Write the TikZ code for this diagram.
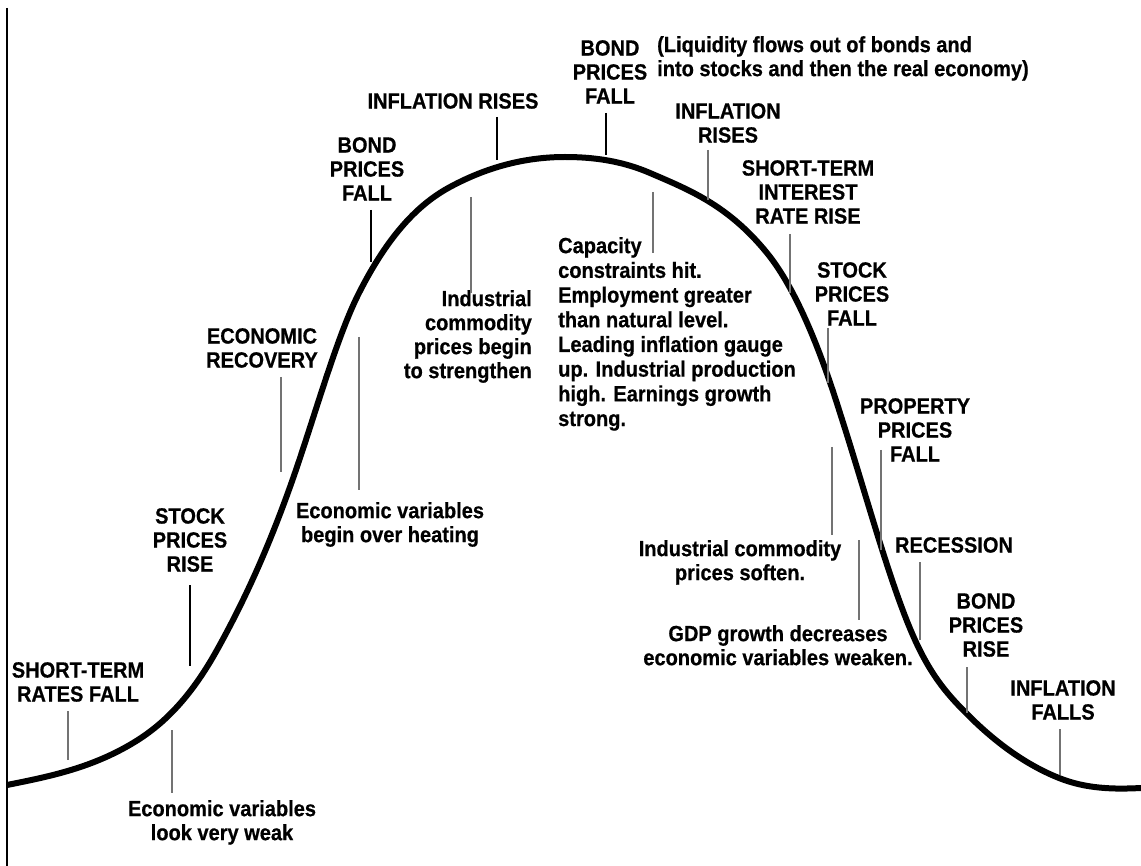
\documentclass[tikz,border=0pt]{standalone}
\usepackage{fontspec}
\newfontfamily\labfont[FakeStretch=0.91,FakeBold=0.6]{Liberation Sans}
\tikzset{
  lab/.style={font=\labfont\bfseries\fontsize{22}{24}\selectfont, inner sep=0pt, align=center, anchor=north},
  lead/.style={line width=1.6pt, black!55},
  leadk/.style={line width=1.6pt, black},
  curve/.style={line width=6pt, line join=round, line cap=butt}
}
\begin{document}
\begin{tikzpicture}[x=1pt,y=-1pt]
\useasboundingbox (0,0) rectangle (1141,866);
% axis
\draw[line width=2pt] (7,8) -- (7,866);
% curve (Hermite segments)
\draw[curve] (7,785)
  .. controls (49,776.6) and (91,768.2) .. (133,743)
  .. controls (161,726.2) and (189,700.4) .. (217,650)
  .. controls (244.7,600.2) and (272.3,541) .. (300,458)
  .. controls (319.3,400) and (338.7,333.7) .. (358,295)
  .. controls (388.7,233.7) and (419.3,203.6) .. (450,187)
  .. controls (488.3,166.3) and (526.7,157) .. (565,157)
  .. controls (593.3,157) and (621.7,160.8) .. (650,173)
  .. controls (689,189.8) and (728,205) .. (767,253)
  .. controls (791.3,282.9) and (815.7,335) .. (840,413)
  .. controls (865,490.5) and (890,585) .. (915,640)
  .. controls (932.7,678.9) and (950.3,697.3) .. (968,715)
  .. controls (998.3,745.3) and (1028.7,765.9) .. (1059,778)
  .. controls (1086.3,788.9) and (1113.7,789.4) .. (1141,788);
% labels
\node[lab] (stfall) at (78,662) {SHORT-TERM\\RATES FALL};
\node[lab] (sprise) at (190,508) {STOCK\\PRICES\\RISE};
\node[lab] (weak) at (222,800) {Economic variables\\look very weak};
\node[lab] (recov) at (262,328) {ECONOMIC\\RECOVERY};
\node[lab] (heat) at (390,502) {Economic variables\\begin over heating};
\node[lab] (bpf1) at (367,137) {BOND\\PRICES\\FALL};
\node[lab] (infr1) at (453,93) {INFLATION RISES};
\node[lab, anchor=north east, align=right] (indst) at (532,290) {Industrial\\commodity\\prices begin\\to strengthen};
\node[lab] (bpf2) at (610,40) {BOND\\PRICES\\FALL};
\node[lab, anchor=north west, align=left] (liq) at (657,36) {(Liquidity flows out of bonds and\\into stocks and then the real economy)};
\node[lab] (infr2) at (728,103) {INFLATION\\RISES};
\node[lab, anchor=north west, align=left, font=\labfont\bfseries\fontsize{22}{24.7}\selectfont] (cap) at (558,237) {Capacity\\constraints hit.\\Employment greater\\than natural level.\\Leading inflation gauge\\up. Industrial production\\high. Earnings growth\\strong.};
\node[lab] (stir) at (808,160) {SHORT-TERM\\INTEREST\\RATE RISE};
\node[lab] (spf) at (852,262) {STOCK\\PRICES\\FALL};
\node[lab] (ppf) at (915,398) {PROPERTY\\PRICES\\FALL};
\node[lab] (soft) at (740,540) {Industrial commodity\\prices soften.};
\node[lab] (rec) at (954,537) {RECESSION};
\node[lab] (gdp) at (778,625) {GDP growth decreases\\economic variables weaken.};
\node[lab] (bpr) at (986,593) {BOND\\PRICES\\RISE};
\node[lab] (inff) at (1063,680) {INFLATION\\FALLS};
% leaders
\draw[lead]  (68,711) -- (68,760);
\draw[leadk] (190,585) -- (190,666);
\draw[lead]  (172,730) -- (172,793);
\draw[lead]  (281,377) -- (281,472);
\draw[lead]  (359,337) -- (359,490);
\draw[leadk] (371,210) -- (371,262);
\draw[leadk] (497,117) -- (497,160);
\draw[lead]  (471,197) -- (471,293);
\draw[leadk] (606,113) -- (606,155);
\draw[lead]  (708,150) -- (708,200);
\draw[lead]  (653,192) -- (653,253);
\draw[lead]  (790,234) -- (790,293);
\draw[lead]  (828,328) -- (828,383);
\draw[lead]  (881,450) -- (881,550);
\draw[lead]  (832,447) -- (832,535);
\draw[lead]  (920,562) -- (920,640);
\draw[lead]  (859,540) -- (859,620);
\draw[lead]  (967,667) -- (967,713);
\draw[lead]  (1060,729) -- (1060,775);
\end{tikzpicture}
\end{document}
